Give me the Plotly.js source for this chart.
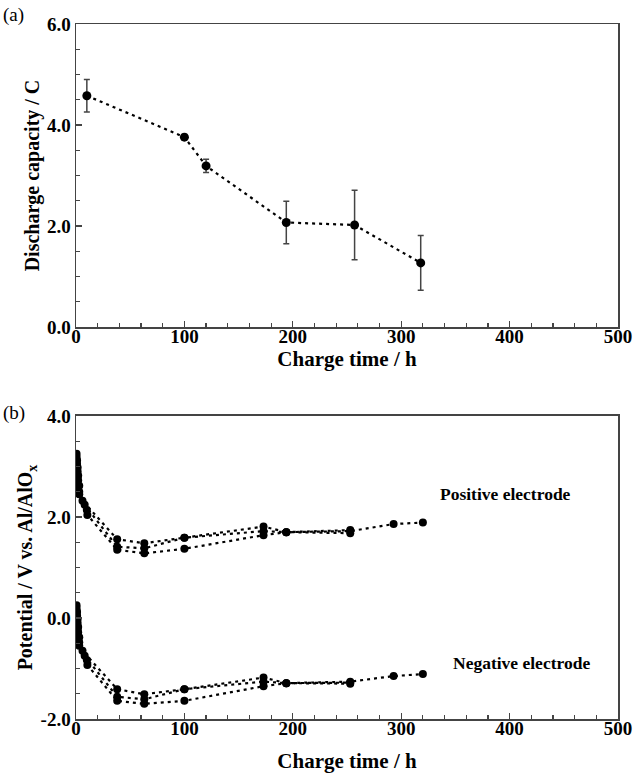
<!DOCTYPE html>
<html>
<head>
<meta charset="utf-8">
<script src="https://cdn.plot.ly/plotly-3.0.1.min.js"></script>
<style>html,body{margin:0;padding:0;background:#fff;}#chart{width:633px;height:773px;}</style>
</head>
<body>
<div id="chart"></div>
<script>
// ---- Panel (a): discharge capacity vs charge time ----
const capTime = [10, 100, 120, 194, 257, 318];
const capValue = [4.58, 3.76, 3.19, 2.07, 2.02, 1.27];
const capError = [0.32, 0.05, 0.13, 0.42, 0.69, 0.54];

// ---- Panel (b): electrode potentials vs charge time (three cells) ----
const pos1Time = [0.5, 1, 1.5, 2, 3, 6, 38, 63, 100, 173, 194, 253, 293, 320];
const pos1Value = [3.25, 3.12, 2.98, 2.82, 2.62, 2.32, 1.56, 1.48, 1.59, 1.81, 1.70, 1.72, 1.86, 1.89];
const pos2Time = [0.5, 1, 1.5, 2, 3, 8, 38, 63, 100, 173, 194, 253];
const pos2Value = [3.20, 3.05, 2.90, 2.72, 2.50, 2.24, 1.41, 1.38, 1.59, 1.72, 1.70, 1.74];
const pos3Time = [0.5, 1, 1.5, 2, 3, 10, 10.5, 38, 63, 100, 173, 194, 253];
const pos3Value = [3.15, 2.95, 2.78, 2.60, 2.45, 2.14, 2.04, 1.35, 1.28, 1.37, 1.64, 1.70, 1.68];

const neg1Time = [0.5, 1, 1.5, 2, 3, 6, 38, 63, 100, 173, 194, 253, 293, 320];
const neg1Value = [0.25, 0.12, -0.02, -0.18, -0.38, -0.65, -1.41, -1.51, -1.41, -1.18, -1.29, -1.26, -1.15, -1.11];
const neg2Time = [0.5, 1, 1.5, 2, 3, 8, 38, 63, 100, 173, 194, 253];
const neg2Value = [0.20, 0.05, -0.10, -0.28, -0.48, -0.75, -1.56, -1.61, -1.41, -1.26, -1.29, -1.28];
const neg3Time = [0.5, 1, 1.5, 2, 3, 10, 10.5, 38, 63, 100, 173, 194, 253];
const neg3Value = [0.15, -0.05, -0.22, -0.40, -0.55, -0.83, -0.93, -1.64, -1.70, -1.64, -1.35, -1.29, -1.30];

const xTickVals = [0, 100, 200, 300, 400, 500];
const xTickText = ['0', '100', '200', '300', '400', '500'];
const yaTickVals = [0, 2, 4, 6];
const yaTickText = ['0.0', '2.0', '4.0', '6.0'];
const ybTickVals = [-2, 0, 2, 4];
const ybTickText = ['-2.0', '0.0', '2.0', '4.0'];

const serif = 'Liberation Serif';
const lineStyle = {color: '#000', width: 2.2, dash: '3px,4px'};

const traces = [{
  x: capTime, y: capValue, xaxis: 'x', yaxis: 'y', type: 'scatter', mode: 'lines+markers',
  line: lineStyle, marker: {color: '#000', size: 9},
  error_y: {type: 'data', array: capError, visible: true, color: '#444', thickness: 1.5, width: 3}
}];
const seriesB = [[pos1Time, pos1Value], [pos2Time, pos2Value], [pos3Time, pos3Value],
                 [neg1Time, neg1Value], [neg2Time, neg2Value], [neg3Time, neg3Value]];
seriesB.forEach(s => traces.push({
  x: s[0], y: s[1], xaxis: 'x2', yaxis: 'y2', type: 'scatter', mode: 'lines+markers',
  line: lineStyle, marker: {color: '#000', size: 8}
}));

function xAxis(anchor, standoff) {
  return {
    anchor: anchor, range: [0, 500], tickvals: xTickVals, ticktext: xTickText,
    ticks: 'inside', ticklen: 6, tickwidth: 1.3, tickcolor: '#444',
    minor: {dtick: 20, ticks: 'inside', ticklen: 4, tickwidth: 1.2, tickcolor: '#444', showgrid: false},
    showline: true, mirror: true, linecolor: '#444', linewidth: 1.5,
    showgrid: false, zeroline: false, ticklabelstandoff: -8,
    tickfont: {family: serif, size: 19, color: '#000', weight: 'bold'},
    title: {text: 'Charge time / h', standoff: standoff, font: {family: serif, size: 21, color: '#000', weight: 'bold'}}
  };
}
function yAxis(anchor, domain, range, vals, text, title) {
  return {
    anchor: anchor, domain: domain, range: range, tickvals: vals, ticktext: text,
    ticks: 'inside', ticklen: 6, tickwidth: 1.3, tickcolor: '#444',
    minor: {dtick: 0.5, ticks: 'inside', ticklen: 4, tickwidth: 1.2, tickcolor: '#444', showgrid: false},
    showline: true, mirror: true, linecolor: '#444', linewidth: 1.5,
    showgrid: false, zeroline: false,
    tickfont: {family: serif, size: 19, color: '#000', weight: 'bold'},
    title: {text: title, standoff: 2, font: {family: serif, size: 20, color: '#000', weight: 'bold'}}
  };
}

const layout = {
  width: 633, height: 773,
  margin: {l: 76, r: 15, t: 24, b: 54},
  paper_bgcolor: '#fff', plot_bgcolor: '#fff',
  showlegend: false,
  xaxis: xAxis('y', 4),
  yaxis: yAxis('x', [0.564, 1], [0, 6], yaTickVals, yaTickText, 'Discharge capacity / C'),
  xaxis2: xAxis('y2', 17),
  yaxis2: yAxis('x2', [0, 0.436], [-2, 4], ybTickVals, ybTickText, 'Potential / V vs. Al/AlO<sub>x</sub>'),
  annotations: [
    {text: '(a)', xref: 'paper', yref: 'paper', x: -0.1, y: 1.0, xanchor: 'center', yanchor: 'middle',
     xshift: -8, yshift: 9, showarrow: false, font: {family: serif, size: 19, color: '#000'}},
    {text: '(b)', xref: 'paper', yref: 'paper', x: -0.1, y: 0.436, xanchor: 'center', yanchor: 'middle',
     xshift: -8, yshift: 3, showarrow: false, font: {family: serif, size: 19, color: '#000'}},
    {text: 'Positive electrode', xref: 'x2', yref: 'y2', x: 396, y: 2.45, xanchor: 'center', yanchor: 'middle',
     showarrow: false, font: {family: serif, size: 17.5, color: '#000', weight: 'bold'}},
    {text: 'Negative electrode', xref: 'x2', yref: 'y2', x: 411, y: -0.9, xanchor: 'center', yanchor: 'middle',
     showarrow: false, font: {family: serif, size: 17.5, color: '#000', weight: 'bold'}}
  ]
};

Plotly.newPlot('chart', traces, layout, {displayModeBar: false, staticPlot: true});
</script>
</body>
</html>
